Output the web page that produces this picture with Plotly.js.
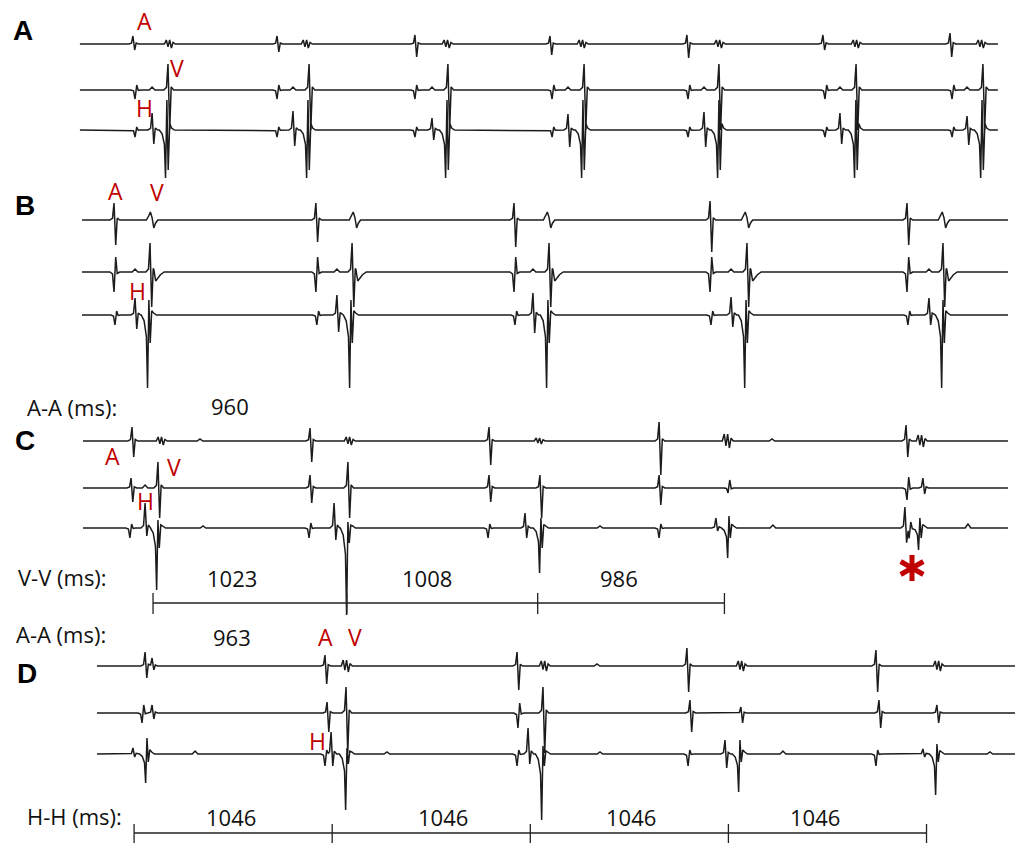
<!DOCTYPE html>
<html><head><meta charset="utf-8">
<script src="https://cdn.plot.ly/plotly-3.0.1.min.js"></script>
<style>html,body{margin:0;padding:0;background:#fff}#chart{width:1016px;height:843px}</style>
</head><body><div id="chart"></div>
<script>
// ---------------- DATA (times in ms, amplitudes in display units) ----------------
// event: [time_ms, waveform, amp1, amp2, amp3]
const panelA_hra = [
  [702,'ud',8,6],[1463,'ud',8,8],[2191,'ud',9,13],[2904,'ud',8,11],[3627,'ud',9,14],[4345,'ud',9,6],[5016,'ud',11,13],
  [898,'w',4],[1621,'w',4],[2365,'w',4],[3078,'w',4],[3802,'w',4],[4525,'w',4],[5185,'w',4]
];
const panelA_his1 = [
  [713,'du',9,5],[1463,'du',9,5],[2191,'du',9,5],[2915,'du',9,5],[3633,'du',9,5],[4356,'du',9,5],[5027,'du',9,5],
  [803,'bump',3],[1547,'bump',3],[2281,'bump',3],[2999,'bump',3],[3717,'bump',3],[4435,'bump',3],[5106,'bump',3],
  [887,'ud',26,40],[1632,'ud',26,40],[2365,'ud',26,40],[3084,'ud',26,40],[3796,'ud',26,40],[4520,'ud',26,40],[5190,'ud',26,40]
];
const panelA_his2 = [
  [713,'du',7,3],[1463,'du',7,3],[2191,'du',7,3],[2915,'du',7,3],[3633,'du',7,3],[4356,'du',7,3],[5027,'du',7,3],
  [803,'ud',17,14],[1547,'ud',19,16],[2281,'ud',12,10],[2999,'ud',16,17],[3717,'ud',18,17],[4435,'ud',17,14],[5106,'ud',14,15],
  [876,'dud',48,30,40],[1621,'dud',48,30,40],[2355,'dud',48,30,40],[3073,'dud',48,30,40],[3791,'dud',48,30,40],[4514,'dud',48,30,40],[5180,'dud',48,30,40]
];
const panelB_hra = [
  [602,'ud',17,25],[1668,'ud',17,22],[2714,'ud',17,27],[3749,'ud',19,32],[4789,'ud',17,25],
  [803,'biw',8,8],[1874,'biw',8,8],[2899,'biw',8,8],[3944,'biw',8,8],[4984,'biw',8,8]
];
const panelB_his1 = [
  [602,'du',20,15],[1668,'du',20,15],[2714,'du',20,15],[3749,'du',20,15],[4789,'du',20,15],
  [713,'bump',3],[1779,'bump',3],[2814,'bump',3],[3860,'bump',3],[4905,'bump',3],
  [792,'ud',29,35],[1859,'ud',29,35],[2899,'ud',29,35],[3944,'ud',29,35],[4979,'ud',29,35],
  [812,'slow',9],[1879,'slow',9],[2919,'slow',9],[3964,'slow',9],[4999,'slow',9]
];
const panelB_his2 = [
  [607,'du',10,4],[1673,'du',10,4],[2719,'du',10,4],[3754,'du',10,4],[4794,'du',10,4],
  [713,'ud',17,14],[1779,'ud',20,17],[2814,'ud',22,18],[3860,'ud',18,12],[4905,'ud',17,10],
  [781,'dud',73,15,28],[1848,'dud',73,15,28],[2888,'dud',73,15,28],[3934,'dud',73,15,28],[4974,'dud',73,15,28]
];
const panelC_hra = [
  [697,'ud',14,16],[1637,'ud',13,21],[2582,'ud',14,24],[3480,'ud',19,34],[4784,'ud',16,16],
  [855,'w',4],[1848,'w',4],[2851,'w',3],[3844,'w',7],[4868,'w',6],
  [1056,'bump',2],[4076,'bump',2]
];
const panelC_his1 = [
  [692,'ud',10,14],[1637,'ud',13,15],[2582,'ud',13,14],[3480,'ud',13,17],[4789,'du',12,11],
  [766,'bump',3],
  [834,'ud',26,30],[1837,'ud',26,30],[2851,'ud',13,30],[3844,'du',5,8],[4873,'ud',10,6]
];
const panelC_his2 = [
  [686,'du',10,4],[1632,'du',10,5],[2577,'du',10,4],[3480,'du',10,4],[4800,'du',12,6],
  [766,'ud',25,8],[1764,'ud',25,12],[2772,'ud',15,10],[3780,'ud',10,3],[4778,'ud',21,14],
  [829,'dud',62,8,20],[1832,'dud',87,6,15],[2851,'dud',45,10,20],[3844,'dud',30,12,10],[4852,'dud',22,10,10],
  [1072,'bump',2],[3168,'bump',2],[4081,'bump',3],[5111,'bump',4]
];
const panelD_hra = [
  [766,'ud',14,12],[803,'ud',8,4],
  [1716,'ud',11,18],[2730,'ud',14,24],[3627,'ud',18,26],[4625,'ud',16,26],
  [1832,'w',6],[2878,'w',5],[3918,'w',5],[4958,'w',5],
  [3152,'bump',2]
];
const panelD_his1 = [
  [750,'du',10,8],[803,'ud',8,6],
  [1727,'ud',11,19],[2735,'du',15,10],[3643,'ud',13,19],[4641,'ud',13,15],
  [1827,'ud',26,40],[2867,'ud',26,40],[3912,'ud',6,10],[4947,'ud',8,10]
];
const panelD_his2 = [
  [702,'ud',6,3],[771,'dud',29,16,8],[1030,'bump',3],
  [1716,'du',12,4],[2730,'du',12,4],[3633,'du',12,4],[4625,'du',12,4],
  [1748,'ud',22,12],[2788,'ud',26,10],[3828,'ud',14,14],[4873,'ud',5,3],
  [1827,'dud',56,6,10],[2862,'dud',66,8,12],[3902,'dud',38,14,8],[4942,'dud',41,10,8],
  [2043,'bump',2],[3168,'bump',2],[4134,'bump',3],[5227,'bump',2]
];
// recording windows per panel (ms)
const windowA = [422, 5269];
const windowB = [433, 5322];
const windowC = [438, 5322];
const windowD = [512, 5359];

// interval measurements
const vvIntervalsC = [1023, 1008, 986];
const vvStartC = 808;
const hhIntervalsD = [1046, 1046, 1046, 1046];
const hhStartD = 708;
const aaC = 960;
const aaD = 963;

const panelLetters = ['A','B','C','D'];
const markerLetters = ['A','V','H'];
const measureLabels = ['A-A (ms):','V-V (ms):','A-A (ms):','H-H (ms):'];

// ---------------- RENDERING ----------------
const W = 1016, H = 843;
const MS_PER_PX = 5.28;
const TRACE_COLOR = '#1c1c1c';
const RED = '#c00000';

const SHAPES = {
  ud:  (a,b)=>[[-22,0],[-8,0.1*a],[0,a],[9,-b],[17,0.12*a],[30,0]],
  du:  (a,b)=>[[-22,0],[-8,-0.1*a],[0,-a],[9,b],[17,-0.1*b],[30,0]],
  dud: (a,b,c)=>[[-35,0],[-20,-0.08*a],[-8,-0.3*a],[-2,-a],[5,b],[12,-c],[20,0.15*b+2],[30,2],[45,0]],
  w:   (a)=>[[-30,0],[-20,a],[-11,-0.7*a],[-2,a],[7,-a],[16,0.4*a],[28,0]],
  bump:(a)=>[[-15,0],[0,a],[15,0]],
  biw: (a,b)=>[[-30,0],[-18,0.5*a],[-9,a],[0,0.3*a],[9,-b],[18,-0.4*b],[30,0]],
  slow:(a)=>[[0,0],[10,-a],[22,-0.7*a],[35,-0.3*a],[55,0]]
};
function interp(p, t){
  if (t <= p[0][0] || t >= p[p.length-1][0]) return 0;
  for (let i=1;i<p.length;i++){
    if (t <= p[i][0]){
      const f = (t - p[i-1][0])/(p[i][0]-p[i-1][0]);
      return p[i-1][1] + f*(p[i][1]-p[i-1][1]);
    }
  }
  return 0;
}
function channel(events, win, base){
  const parts = events.map(e => SHAPES[e[1]](e[2],e[3],e[4]).map(q=>[e[0]+q[0], q[1]]));
  let ts = [win[0], win[1]];
  parts.forEach(p=>p.forEach(q=>ts.push(q[0])));
  ts = Array.from(new Set(ts)).filter(t=>t>=win[0] && t<=win[1]).sort((a,b)=>a-b);
  const ys = ts.map(t => base - parts.reduce((s,p)=>s+interp(p,t),0));
  return {type:'scatter', mode:'lines', x:ts, y:ys, hoverinfo:'skip',
          line:{color:TRACE_COLOR, width:1.5}};
}
const traces = [
  channel(panelA_hra, windowA, 44), channel(panelA_his1, windowA, 90), channel(panelA_his2, windowA, 130),
  channel(panelB_hra, windowB, 220), channel(panelB_his1, windowB, 272), channel(panelB_his2, windowB, 315),
  channel(panelC_hra, windowC, 441), channel(panelC_his1, windowC, 488), channel(panelC_his2, windowC, 528),
  channel(panelD_hra, windowD, 666), channel(panelD_his1, windowD, 713), channel(panelD_his2, windowD, 754)
];
function bracket(start, intervals, yLine, yTop, yBot){
  const xs=[], ys=[];
  let t = start; const marks=[t];
  intervals.forEach(v=>{t+=v; marks.push(t);});
  xs.push(marks[0], marks[marks.length-1], null); ys.push(yLine, yLine, null);
  marks.forEach(m=>{xs.push(m,m,null); ys.push(yTop,yBot,null);});
  return {type:'scatter', mode:'lines', x:xs, y:ys, hoverinfo:'skip', line:{color:'#222', width:1.3}};
}
traces.push(bracket(vvStartC, vvIntervalsC, 603, 593, 614));
traces.push(bracket(hhStartD, hhIntervalsD, 833, 824, 843));

const px = (x,y)=>({xref:'paper', yref:'paper', x:x/W, y:1-y/H});
const ann = [];
function txt(x,y,text,size,color,family,bold){
  ann.push(Object.assign(px(x,y), {text: bold?'<b>'+text+'</b>':text, showarrow:false,
    xanchor:'center', yanchor:'middle', font:{size:size, color:color, family:family}}));
}
const panelPos = [[23,31],[25,205],[25,440],[27,673]];
panelLetters.forEach((l,i)=>txt(panelPos[i][0], panelPos[i][1], l, 28, '#000', 'Liberation Sans, Arial', true));
const redPos = [
  [[144,21],[177,68],[144,108]],
  [[115,191],[157,192],[137,291]],
  [[112,456],[174,467],[145,501]],
  [[325,637],[355,637],[317,741]]
];
redPos.forEach(p=>markerLetters.forEach((l,j)=>txt(p[j][0], p[j][1], l, 23, RED, 'Open Sans, Arial', false)));
const labFont = 'Open Sans, Arial';
txt(72,407,measureLabels[0],22,'#111',labFont); txt(230,406,String(aaC),22,'#111',labFont);
txt(62,577,measureLabels[1],22,'#111',labFont);
[232,427,619].forEach((x,i)=>txt(x,578,String(vvIntervalsC[i]),22,'#111',labFont));
txt(61,634,measureLabels[2],22,'#111',labFont); txt(232,637,String(aaD),22,'#111',labFont);
txt(74,816,measureLabels[3],22,'#111',labFont);
[231,443,631,815].forEach((x,i)=>txt(x,817,String(hhIntervalsD[i]),22,'#111',labFont));

// asterisk
const cx=912, cy=568, r=13;
const shapes = [[0,r],[r*0.87,r*0.5],[r*0.87,-r*0.5]].map(d=>({
  type:'line', xref:'paper', yref:'paper',
  x0:(cx-d[0])/W, y0:1-(cy-d[1])/H, x1:(cx+d[0])/W, y1:1-(cy+d[1])/H,
  line:{color:RED, width:5}
}));

const layout = {
  width:W, height:H, margin:{l:0,r:0,t:0,b:0,pad:0},
  paper_bgcolor:'#fff', plot_bgcolor:'#fff', showlegend:false,
  xaxis:{range:[0, W*MS_PER_PX], visible:false, fixedrange:true},
  yaxis:{range:[H, 0], visible:false, fixedrange:true},
  annotations: ann, shapes: shapes
};
Plotly.newPlot('chart', traces, layout, {displayModeBar:false, staticPlot:true});
</script></body></html>
